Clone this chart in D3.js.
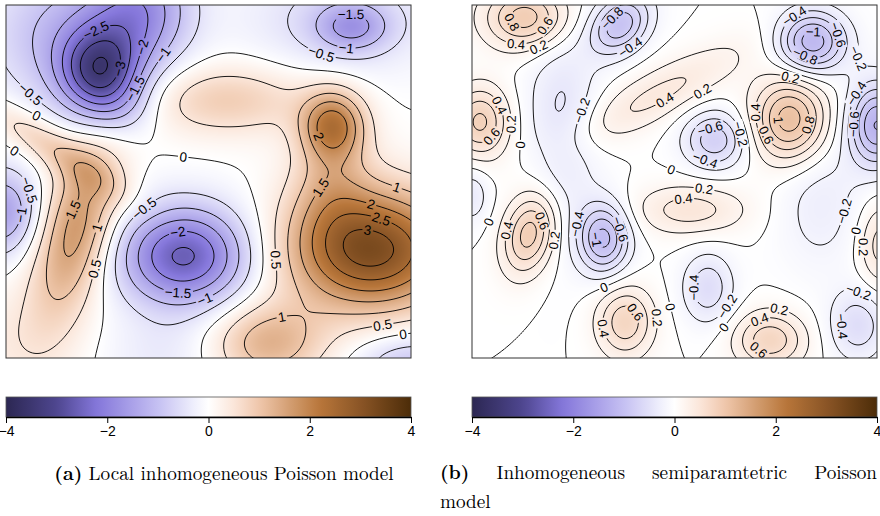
<!DOCTYPE html>
<html>
<head>
<meta charset="utf-8">
<script src="https://cdn.jsdelivr.net/npm/d3@7"></script>
<style>
  body { margin: 0; background: #fff; }
</style>
</head>
<body>
<svg id="chart" width="880" height="516"></svg>
<script>
// Both panels share the same observation window, in window units (x right, y down)
const winW = 405, winH = 353;

const aX   = [94, 135, 60, 115, 346, 335, 327, 366, 325, 262, 220, 405, 178, -4, 70, 45, 10, 160];
const aY   = [68, 5, 30, 105, 22, 15, 120, 245, 175, 338, 95, 358, 251, 207, 226, 142, 340, 352];
const aAmp = [-2.65, -1.6, -1.1, -0.5, -1.15, -0.65, 2.0, 3.2, 0.8, 1.3, 0.9, -0.9, -2.6, -1.5, 1.75, 0.9, 0.35, -0.35];
const aSx  = [28, 35, 55, 25, 25, 65, 22, 58, 28, 40, 60, 40, 45, 25, 25, 55, 45, 45];
const aSy  = [30, 40, 50, 20, 17, 38, 24, 42, 40, 28, 25, 22, 35, 30, 62, 14, 40, 30];
const aRot = [0, 0, 0, 0, 0, 0, 0, 0, 0, 0, 0, 0, 0, 0, 15, 33, 0, 0];
const aLevels = d3.range(-8, 9).map(k => k * 0.5);

// (b) inhomogeneous semiparametric Poisson model
const bX   = [55, 8, 148, 90, 185, 243, 318, 340, 405, 408, 386, 298, 236, 218, 58, 132, 153, 0, 348];
const bY   = [13, 117, 20, 120, 90, 135, 115, 37, 120, 240, 320, 335, 283, 205, 228, 233, 317, 190, 195];
const bAmp = [0.95, 0.85, -0.95, -0.45, 0.45, -0.75, 1.15, -1.15, -1.2, 0.5, -0.55, 0.75, -0.55, 0.5, 0.95, -1.05, 0.75, -0.35, -0.3];
const bSx  = [30, 20, 24, 25, 70, 22, 26, 24, 20, 15, 20, 25, 18, 40, 18, 18, 20, 12, 30];
const bSy  = [22, 25, 18, 75, 18, 20, 30, 22, 30, 30, 25, 20, 25, 18, 30, 25, 25, 20, 50];
const bRot = [0, 0, -45, 0, -28, 0, 0, 0, 0, 0, 0, 0, 0, 0, 15, 0, 0, 0, 0];
const bLevels = d3.range(-7, 8).map(k => +(k * 0.2).toFixed(1));

// colour key
const colorTicks = [-4, -2, 0, 2, 4];
const colorStops = [-4, -3, -2.2, -1, -0.3, 0, 0.5, 1, 2.2, 3, 4];
const colorHex = ["#2c2752", "#4e468f", "#8577db", "#c5c0f2", "#eeeefc", "#ffffff",
                  "#fbe6da", "#efc7ab", "#b8763a", "#8a5526", "#4c2c08"];

const captionA = ["(a)", "Local", "inhomogeneous", "Poisson", "model"];
const captionB = ["(b)", "Inhomogeneous", "semiparamtetric", "Poisson"];
const captionB2 = "model";

const svg = d3.select("#chart");
const color = d3.scaleLinear().domain(colorStops).range(colorHex).clamp(true);
const minus = s => s.replace("-", "\u2212");
const fmt = v => minus(String(+v.toFixed(1)));
const sans = "Liberation Sans, Arial, sans-serif";
const serif = "Latin Modern Roman, CMU Serif, Liberation Serif, serif";

// lookup table so the raster doesn't parse a colour per pixel
const lut = d3.range(801).map(i => d3.rgb(color(-4 + i / 100)));

function makeField(X, Y, Amp, Sx, Sy, Rot) {
  const rad = Rot.map(r => r * Math.PI / 180);
  return (x, y) => {
    let v = 0;
    for (let k = 0; k < X.length; k++) {
      const dx = x - X[k], dy = y - Y[k];
      const c = Math.cos(rad[k]), s = Math.sin(rad[k]);
      const u = dx * c + dy * s, w = -dx * s + dy * c;
      v += Amp[k] * Math.exp(-(u * u) / (2 * Sx[k] * Sx[k]) - (w * w) / (2 * Sy[k] * Sy[k]));
    }
    return v;
  };
}

function drawPanel(id, left, top, field, levels, fontSize) {
  const x = d3.scaleLinear().domain([0, winW]).range([left, left + winW]);
  const y = d3.scaleLinear().domain([0, winH]).range([top, top + winH]);
  const g = svg.append("g");

  // raster image of the surface
  const canvas = document.createElement("canvas");
  canvas.width = winW; canvas.height = winH;
  const ctx = canvas.getContext("2d");
  const img = ctx.createImageData(winW, winH);
  for (let py = 0; py < winH; py++) {
    for (let px = 0; px < winW; px++) {
      const v = field(x.invert(left + px + 0.5), y.invert(top + py + 0.5));
      const c = lut[Math.round((Math.max(-4, Math.min(4, v)) + 4) * 100)];
      const o = (py * winW + px) * 4;
      img.data[o] = c.r; img.data[o + 1] = c.g; img.data[o + 2] = c.b; img.data[o + 3] = 255;
    }
  }
  ctx.putImageData(img, 0, 0);
  g.append("image").attr("x", left).attr("y", top)
    .attr("width", winW).attr("height", winH)
    .attr("href", canvas.toDataURL());

  // grid for the contour lines, padded past the frame so border segments fall outside the clip
  const step = 2, pad = 4;
  const nx = Math.ceil(winW / step) + 2 * pad + 1;
  const ny = Math.ceil(winH / step) + 2 * pad + 1;
  const x0 = -pad * step, y0 = -pad * step;
  const values = new Float64Array(nx * ny);
  for (let j = 0; j < ny; j++)
    for (let i = 0; i < nx; i++)
      values[j * nx + i] = field(x0 + i * step, y0 + j * step);
  const contours = d3.contours().size([nx, ny]);

  const defs = svg.append("defs");
  defs.append("clipPath").attr("id", "clip" + id)
    .append("rect").attr("x", left).attr("y", top).attr("width", winW).attr("height", winH);
  const mask = defs.append("mask").attr("id", "mask" + id).attr("maskUnits", "userSpaceOnUse")
    .attr("x", 0).attr("y", 0).attr("width", 880).attr("height", 516);
  mask.append("rect").attr("width", 880).attr("height", 516).attr("fill", "#fff");

  const lineG = g.append("g").attr("clip-path", `url(#clip${id})`)
    .append("g").attr("mask", `url(#mask${id})`);
  const labelG = g.append("g").attr("clip-path", `url(#clip${id})`);

  const measure = svg.append("text").attr("font-family", sans)
    .attr("font-size", fontSize).attr("visibility", "hidden");
  const placed = [];
  const line = d3.line().x(p => x(p[0])).y(p => y(p[1]));

  for (const t of levels) {
    const mp = contours.contour(values, t);
    if (!mp.coordinates.length) continue;
    const label = fmt(t);
    const tw = measure.text(label).node().getComputedTextLength();
    for (const poly of mp.coordinates) {
      for (const ring of poly) {
        const pts = ring.map(p => [x0 + (p[0] - 0.5) * step, y0 + (p[1] - 0.5) * step]);
        lineG.append("path").attr("d", line(pts))
          .attr("fill", "none").attr("stroke", "#000").attr("stroke-width", 0.9);
        for (const run of insideRuns(pts)) {
          const spot = flattest(run, tw + 4, fontSize, placed);
          if (!spot) continue;
          placed.push({ c: spot.c, w: tw });
          let ang = spot.ang * 180 / Math.PI;
          if (ang > 90) ang -= 180;
          if (ang < -90) ang += 180;
          const cx = x(spot.c[0]), cy = y(spot.c[1]);
          mask.append("rect")
            .attr("x", cx - tw / 2 - 1.5).attr("y", cy - fontSize * 0.42)
            .attr("width", tw + 3).attr("height", fontSize * 0.84)
            .attr("fill", "#000")
            .attr("transform", `rotate(${ang},${cx},${cy})`);
          labelG.append("text").attr("x", cx).attr("y", cy)
            .attr("dy", "0.36em")
            .attr("text-anchor", "middle")
            .attr("font-family", sans)
            .attr("font-size", fontSize)
            .attr("transform", `rotate(${ang},${cx},${cy})`)
            .text(label);
        }
      }
    }
  }
  measure.remove();

  g.append("rect").attr("x", left).attr("y", top).attr("width", winW).attr("height", winH)
    .attr("fill", "none").attr("stroke", "#333").attr("stroke-width", 1);
}

function insideRuns(pts) {
  const inside = p => p[0] >= 0 && p[0] <= winW && p[1] >= 0 && p[1] <= winH;
  const start = pts.findIndex(p => !inside(p));
  if (start < 0) return [pts];
  const rot = pts.slice(start).concat(pts.slice(0, start));
  const runs = [];
  let cur = [];
  for (const p of rot) {
    if (inside(p)) cur.push(p);
    else { if (cur.length > 1) runs.push(cur); cur = []; }
  }
  if (cur.length > 1) runs.push(cur);
  return runs;
}

// R-style "flattest" placement: the straightest stretch of the line that fits the label
function flattest(pts, w, fontSize, placed) {
  const res = [pts[0]];
  let carry = 0;
  for (let i = 1; i < pts.length; i++) {
    const a = pts[i - 1], b = pts[i];
    const d = Math.hypot(b[0] - a[0], b[1] - a[1]);
    let s = 1 - carry;
    while (s <= d) {
      res.push([a[0] + (b[0] - a[0]) * s / d, a[1] + (b[1] - a[1]) * s / d]);
      s += 1;
    }
    carry = d - (s - 1);
  }
  const L = res.length - 1;
  if (L < 2.6 * w) return null;
  const h = Math.ceil(w / 2);
  const m = fontSize * 0.6;
  let best = null;
  for (let s = h; s <= L - h; s += 2) {
    const c = res[s], a = res[s - h], b = res[s + h];
    if (c[0] < w / 2 + 2 || c[0] > winW - w / 2 - 2 || c[1] < m || c[1] > winH - m) continue;
    if (placed.some(p => Math.hypot(p.c[0] - c[0], p.c[1] - c[1]) < (p.w + w) / 2 + 2)) continue;
    const dx = b[0] - a[0], dy = b[1] - a[1], len = Math.hypot(dx, dy) || 1;
    let dev = 0;
    for (let k = s - h; k <= s + h; k += 2) {
      const q = res[k];
      dev = Math.max(dev, Math.abs((q[0] - a[0]) * dy - (q[1] - a[1]) * dx) / len);
    }
    if (!best || dev < best.dev) best = { dev, c, ang: Math.atan2(dy, dx) };
  }
  return best;
}

function drawKey(id, left, top, width, height) {
  const k = d3.scaleLinear().domain([-4, 4]).range([left, left + width]);
  const grad = svg.append("defs").append("linearGradient").attr("id", "grad" + id)
    .attr("x1", "0%").attr("x2", "100%").attr("y1", "0%").attr("y2", "0%");
  d3.range(0, 1.0001, 0.02).forEach(f => {
    grad.append("stop").attr("offset", (f * 100) + "%").attr("stop-color", color(-4 + 8 * f));
  });
  svg.append("rect").attr("x", left).attr("y", top).attr("width", width).attr("height", height)
    .attr("fill", `url(#grad${id})`).attr("stroke", "#555").attr("stroke-width", 0.8);
  const axis = svg.append("g").attr("transform", `translate(0,${top + height})`)
    .call(d3.axisBottom(k).tickValues(colorTicks).tickSize(6).tickSizeOuter(0)
      .tickFormat(d => minus(String(d))));
  axis.select(".domain").attr("stroke", "#000").attr("stroke-width", 1.3);
  axis.selectAll(".tick line").attr("stroke", "#000");
  axis.selectAll(".tick text").attr("font-family", sans)
    .attr("font-size", 14).attr("fill", "#000");
}

// captions: words laid out one by one so a line can be justified between two edges
function wordWidth(word, size, bold) {
  const t = svg.append("text").attr("font-family", serif).attr("font-size", size)
    .attr("font-weight", bold ? "bold" : "normal").text(word);
  const w = t.node().getComputedTextLength();
  t.remove();
  return w;
}
function captionLine(words, x0, yPos, size, gap) {
  const widths = words.map((w, i) => wordWidth(w, size, i === 0));
  let xPos = x0;
  words.forEach((w, i) => {
    svg.append("text").attr("x", xPos).attr("y", yPos)
      .attr("font-family", serif).attr("font-size", size)
      .attr("font-weight", i === 0 ? "bold" : "normal").attr("fill", "#000").text(w);
    xPos += widths[i] + gap;
  });
}

drawPanel("a", 6, 5, makeField(aX, aY, aAmp, aSx, aSy, aRot), aLevels, 13.5);
drawPanel("b", 472, 5, makeField(bX, bY, bAmp, bSx, bSy, bRot), bLevels, 13);
drawKey("a", 6, 397, 405, 20);
drawKey("b", 472, 397, 405, 20);

// caption size: line (b) is justified 440..877 with word gaps of about 27px
const base = 20;
const natB = d3.sum(captionB.map((w, i) => wordWidth(w, base, i === 0)));
const fs = base * (437 - 3 * 27) / natB;
const wordsB = d3.sum(captionB.map((w, i) => wordWidth(w, fs, i === 0)));
captionLine(captionB, 440, 479, fs, (437 - wordsB) / 3);
// line (a) uses ordinary spaces and is centred under its key
const gapA = 0.33 * fs;
const wordsA = d3.sum(captionA.map((w, i) => wordWidth(w, fs, i === 0)));
const widthA = wordsA + gapA * (captionA.length - 1);
captionLine(captionA, 224 - widthA / 2, 480, fs, gapA);
svg.append("text").attr("x", 440).attr("y", 508)
  .attr("font-family", serif).attr("font-size", fs).attr("fill", "#000").text(captionB2);
</script>
</body>
</html>
